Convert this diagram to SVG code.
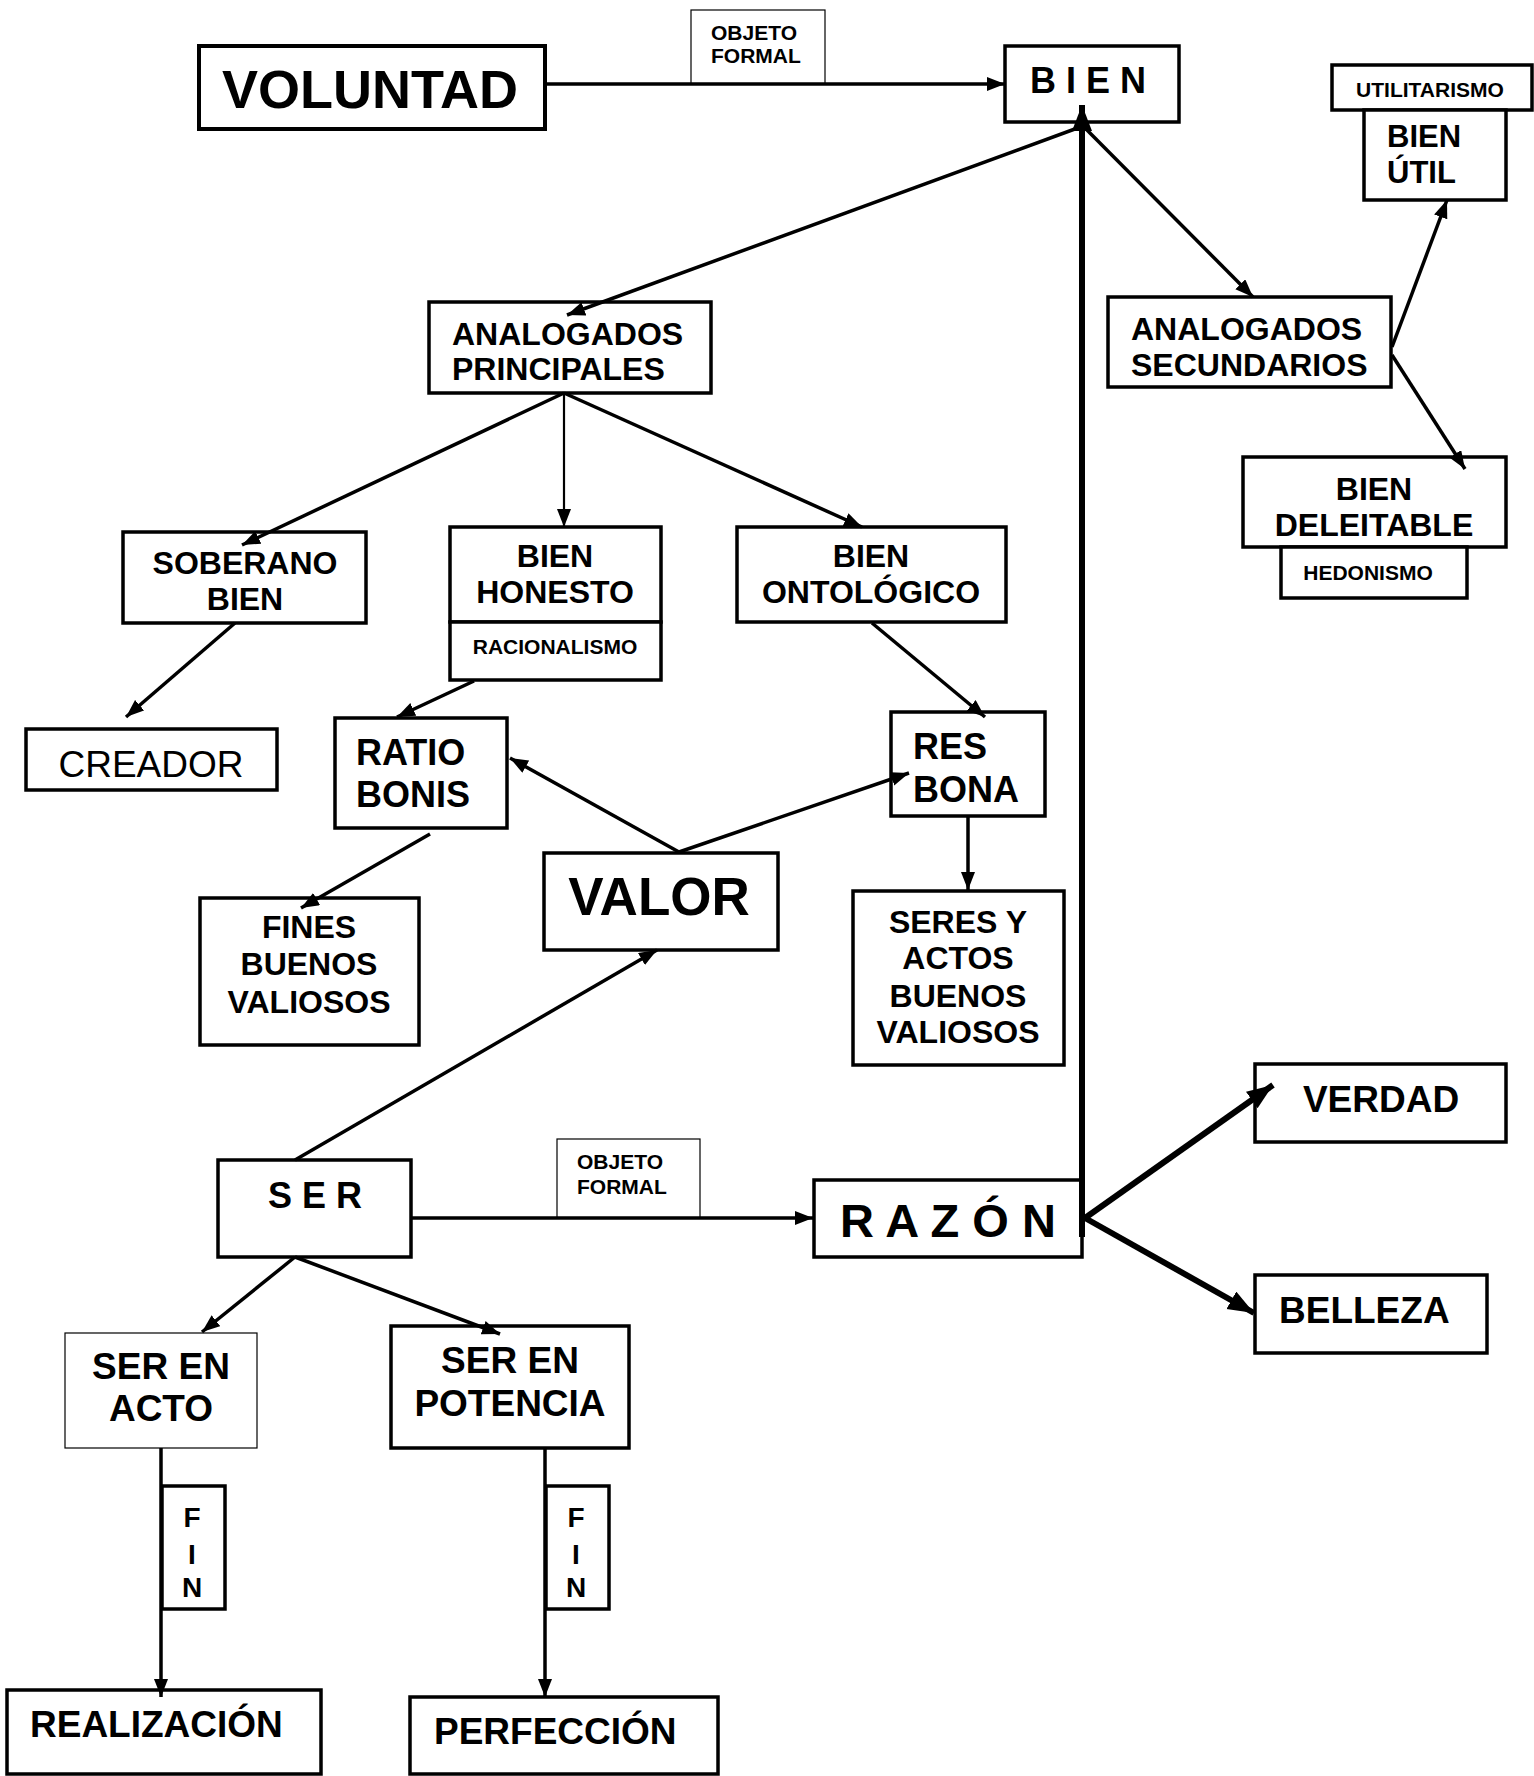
<svg xmlns="http://www.w3.org/2000/svg" width="1534" height="1776" viewBox="0 0 1534 1776">
<style>
.box{fill:#fff;stroke:#000;stroke-width:3.5}
.thin{fill:#fff;stroke:#000;stroke-width:1.2}
.t{font-family:"Liberation Sans",Arial,sans-serif;font-weight:bold;fill:#000}
.n{font-family:"Liberation Sans",Arial,sans-serif;font-weight:normal;fill:#000}
.m{text-anchor:middle}
.c{stroke:#000;stroke-width:3.5;fill:none}
.k{stroke:#000;stroke-width:6;fill:none}
.h{stroke:#000;stroke-width:2.2;fill:none}
</style>
<defs>
<marker id="ah" markerUnits="userSpaceOnUse" markerWidth="19" markerHeight="15" refX="18" refY="7" orient="auto" viewBox="0 0 19 15"><path d="M0,0 L18,7 L0,14 z" fill="#000"/></marker>
<marker id="ahk" markerUnits="userSpaceOnUse" markerWidth="27" markerHeight="21" refX="26" refY="10" orient="auto" viewBox="0 0 27 21"><path d="M0,0 L26,10 L0,20 z" fill="#000"/></marker>
</defs>
<rect width="1534" height="1776" fill="#fff"/>

<g id="voluntad"><rect class="box" x="199" y="46" width="346" height="83" style="stroke-width:4"/><text class="t m" x="370" y="108" font-size="54">VOLUNTAD</text></g>
<g id="objeto-formal-1"><rect class="thin" x="691" y="10" width="134" height="74"/><text class="t" x="711" y="40" font-size="21">OBJETO</text><text class="t" x="711" y="63" font-size="21">FORMAL</text></g>
<g id="bien"><rect class="box" x="1005" y="46" width="174" height="76"/><text class="t m" x="1088" y="93" font-size="36">B I E N</text></g>
<g id="utilitarismo"><rect class="box" x="1332" y="65" width="200" height="45"/><text class="t m" x="1430" y="97" font-size="21">UTILITARISMO</text></g>
<g id="bien-util"><rect class="box" x="1364" y="110" width="142" height="90"/><text class="t" x="1387" y="147" font-size="31">BIEN</text><text class="t" x="1387" y="183" font-size="31">ÚTIL</text></g>
<g id="analogados-secundarios"><rect class="box" x="1108" y="297" width="283" height="90"/><text class="t" x="1131" y="340" font-size="32">ANALOGADOS</text><text class="t" x="1131" y="376" font-size="32">SECUNDARIOS</text></g>
<g id="bien-deleitable"><rect class="box" x="1243" y="457" width="263" height="90"/><text class="t m" x="1374" y="500" font-size="32">BIEN</text><text class="t m" x="1374" y="536" font-size="32">DELEITABLE</text></g>
<g id="hedonismo"><rect class="box" x="1281" y="547" width="186" height="51"/><text class="t m" x="1368" y="580" font-size="21">HEDONISMO</text></g>
<g id="analogados-principales"><rect class="box" x="429" y="302" width="282" height="91"/><text class="t" x="452" y="345" font-size="32">ANALOGADOS</text><text class="t" x="452" y="380" font-size="32">PRINCIPALES</text></g>
<g id="soberano-bien"><rect class="box" x="123" y="532" width="243" height="91"/><text class="t m" x="245" y="574" font-size="32">SOBERANO</text><text class="t m" x="245" y="610" font-size="32">BIEN</text></g>
<g id="bien-honesto"><rect class="box" x="450" y="527" width="211" height="95"/><text class="t m" x="555" y="567" font-size="32">BIEN</text><text class="t m" x="555" y="603" font-size="32">HONESTO</text></g>
<g id="racionalismo"><rect class="box" x="450" y="622" width="211" height="58"/><text class="t m" x="555" y="654" font-size="21">RACIONALISMO</text></g>
<g id="bien-ontologico"><rect class="box" x="737" y="527" width="269" height="95"/><text class="t m" x="871" y="567" font-size="32">BIEN</text><text class="t m" x="871" y="603" font-size="32">ONTOLÓGICO</text></g>
<g id="creador"><rect class="box" x="26" y="729" width="251" height="61"/><text class="n m" x="151" y="777" font-size="37">CREADOR</text></g>
<g id="ratio-bonis"><rect class="box" x="335" y="718" width="172" height="110"/><text class="t" x="356" y="765" font-size="36">RATIO</text><text class="t" x="356" y="807" font-size="36">BONIS</text></g>
<g id="res-bona"><rect class="box" x="891" y="712" width="154" height="104"/><text class="t" x="913" y="759" font-size="36">RES</text><text class="t" x="913" y="802" font-size="36">BONA</text></g>
<g id="valor"><rect class="box" x="544" y="853" width="234" height="97"/><text class="t m" x="659" y="915" font-size="53">VALOR</text></g>
<g id="fines"><rect class="box" x="200" y="898" width="219" height="147"/><text class="t m" x="309" y="938" font-size="32">FINES</text><text class="t m" x="309" y="975" font-size="32">BUENOS</text><text class="t m" x="309" y="1013" font-size="32">VALIOSOS</text></g>
<g id="seres-actos"><rect class="box" x="853" y="891" width="211" height="174"/><text class="t m" x="958" y="933" font-size="32">SERES Y</text><text class="t m" x="958" y="969" font-size="32">ACTOS</text><text class="t m" x="958" y="1007" font-size="32">BUENOS</text><text class="t m" x="958" y="1043" font-size="32">VALIOSOS</text></g>
<g id="ser"><rect class="box" x="218" y="1160" width="193" height="97"/><text class="t m" x="315" y="1208" font-size="36">S E R</text></g>
<g id="objeto-formal-2"><rect class="thin" x="557" y="1139" width="143" height="79"/><text class="t" x="577" y="1169" font-size="21">OBJETO</text><text class="t" x="577" y="1194" font-size="21">FORMAL</text></g>
<g id="razon"><rect class="box" x="814" y="1180" width="268" height="77"/><text class="t m" x="948" y="1237" font-size="47">R A Z Ó N</text></g>
<g id="verdad"><rect class="box" x="1255" y="1064" width="251" height="78"/><text class="t m" x="1381" y="1112" font-size="37">VERDAD</text></g>
<g id="belleza"><rect class="box" x="1255" y="1275" width="232" height="78"/><text class="t" x="1279" y="1323" font-size="37">BELLEZA</text></g>
<g id="ser-en-acto"><rect class="thin" x="65" y="1333" width="192" height="115"/><text class="t m" x="161" y="1379" font-size="37">SER EN</text><text class="t m" x="161" y="1421" font-size="37">ACTO</text></g>
<g id="ser-en-potencia"><rect class="box" x="391" y="1326" width="238" height="122"/><text class="t m" x="510" y="1373" font-size="37">SER EN</text><text class="t m" x="510" y="1416" font-size="37">POTENCIA</text></g>
<g id="fin-1"><rect class="box" x="162" y="1486" width="63" height="123"/><text class="t m" x="192" y="1527" font-size="28">F</text><text class="t m" x="192" y="1564" font-size="28">I</text><text class="t m" x="192" y="1597" font-size="28">N</text></g>
<g id="fin-2"><rect class="box" x="546" y="1486" width="63" height="123"/><text class="t m" x="576" y="1527" font-size="28">F</text><text class="t m" x="576" y="1564" font-size="28">I</text><text class="t m" x="576" y="1597" font-size="28">N</text></g>
<g id="realizacion"><rect class="box" x="7" y="1690" width="314" height="84"/><text class="t" x="30" y="1737" font-size="37">REALIZACIÓN</text></g>
<g id="perfeccion"><rect class="box" x="410" y="1697" width="308" height="77"/><text class="t" x="434" y="1744" font-size="37">PERFECCIÓN</text></g>

<g id="connectors">
<line class="c" x1="545" y1="84" x2="1005" y2="84" marker-end="url(#ah)"/>
<line class="c" x1="1083" y1="126" x2="567" y2="315" marker-end="url(#ah)"/>
<line class="k" x1="1082" y1="1237" x2="1082" y2="105" marker-end="url(#ahk)"/>
<line class="c" x1="1083" y1="126" x2="1253" y2="297" marker-end="url(#ah)"/>
<line class="c" x1="1392" y1="347" x2="1447" y2="200" marker-end="url(#ah)"/>
<line class="c" x1="1392" y1="355" x2="1465" y2="469" marker-end="url(#ah)"/>
<line class="c" x1="564" y1="393" x2="242" y2="545" marker-end="url(#ah)"/>
<line class="h" x1="564" y1="393" x2="564" y2="527" marker-end="url(#ah)"/>
<line class="c" x1="564" y1="393" x2="862" y2="527" marker-end="url(#ah)"/>
<line class="c" x1="235" y1="623" x2="126" y2="717" marker-end="url(#ah)"/>
<line class="c" x1="474" y1="681" x2="397" y2="717" marker-end="url(#ah)"/>
<line class="c" x1="872" y1="623" x2="985" y2="717" marker-end="url(#ah)"/>
<line class="c" x1="679" y1="852" x2="510" y2="758" marker-end="url(#ah)"/>
<line class="c" x1="679" y1="852" x2="909" y2="773" marker-end="url(#ah)"/>
<line class="c" x1="430" y1="834" x2="301" y2="908" marker-end="url(#ah)"/>
<line class="c" x1="968" y1="816" x2="968" y2="890" marker-end="url(#ah)"/>
<line class="c" x1="295" y1="1160" x2="657" y2="950" marker-end="url(#ah)"/>
<line class="c" x1="411" y1="1218" x2="813" y2="1218" marker-end="url(#ah)"/>
<line class="k" x1="1085" y1="1218" x2="1273" y2="1085" marker-end="url(#ahk)"/>
<line class="k" x1="1085" y1="1218" x2="1254" y2="1313" marker-end="url(#ahk)"/>
<line class="c" x1="295" y1="1257" x2="202" y2="1332" marker-end="url(#ah)"/>
<line class="c" x1="295" y1="1257" x2="500" y2="1334" marker-end="url(#ah)"/>
<line class="c" x1="161" y1="1448" x2="161" y2="1697" marker-end="url(#ah)"/>
<line class="c" x1="545" y1="1448" x2="545" y2="1697" marker-end="url(#ah)"/>
</g>
</svg>
